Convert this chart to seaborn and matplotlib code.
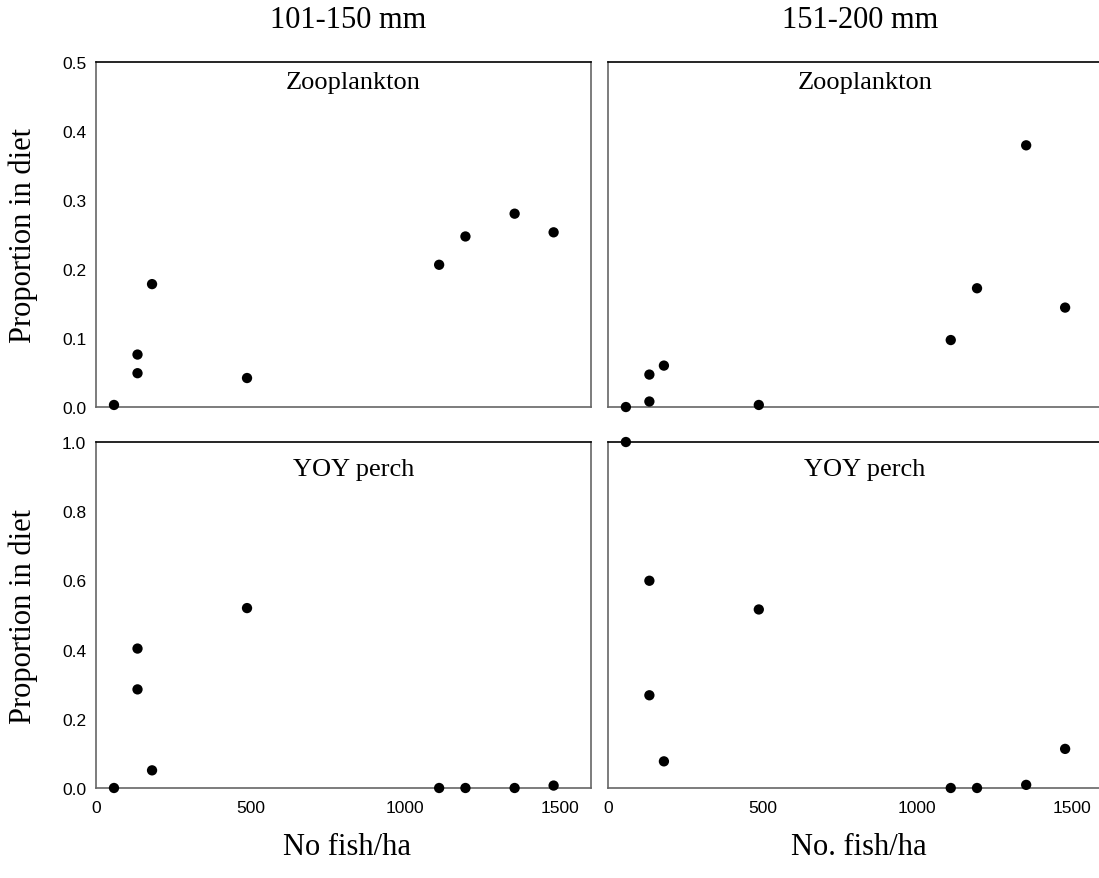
import numpy as np
import pandas as pd
import matplotlib
matplotlib.use("Agg")
import matplotlib.pyplot as plt
import seaborn as sns

# fish density (No. fish/ha) for each lake
density = [58, 134, 134, 181, 488, 1109, 1194, 1353, 1479]

# proportion in diet
zoo_101_150 = [0.003, 0.076, 0.049, 0.178, 0.042, 0.206, 0.247, 0.280, 0.253]
yoy_101_150 = [0.0, 0.403, 0.285, 0.051, 0.520, 0.0, 0.0, 0.0, 0.007]
zoo_151_200 = [0.0, 0.047, 0.008, 0.060, 0.003, 0.097, 0.172, 0.379, 0.144]
yoy_151_200 = [1.0, 0.599, 0.268, 0.077, 0.516, 0.0, 0.0, 0.009, 0.113]

size_classes = ["101-150 mm", "151-200 mm"]
prey_types = ["Zooplankton", "YOY perch"]
x_titles = ["No fish/ha", "No. fish/ha"]

rows = []
for sz, p, vals in [("101-150 mm", "Zooplankton", zoo_101_150),
                    ("101-150 mm", "YOY perch", yoy_101_150),
                    ("151-200 mm", "Zooplankton", zoo_151_200),
                    ("151-200 mm", "YOY perch", yoy_151_200)]:
    for d, v in zip(density, vals):
        rows.append({"size_class": sz, "prey": p, "density": d, "proportion": v})
df = pd.DataFrame(rows)

sns.set_style("white")
plt.rcParams["font.family"] = ["Liberation Sans", "DejaVu Sans"]
plt.rcParams["text.color"] = "black"
plt.rcParams["xtick.color"] = "black"
plt.rcParams["ytick.color"] = "black"
plt.rcParams["axes.labelcolor"] = "black"
serif = ["Liberation Serif", "DejaVu Serif"]

fig = plt.figure(figsize=(10.99, 8.79), dpi=100)

lefts = [0.0874, 0.5532]
widths = [0.4504, 0.4500]
bottoms = [0.5358, 0.1024]
heights = [0.3928, 0.3936]
ymax = [0.5, 1.0]
ystep = [0.1, 0.2]

for r, p in enumerate(prey_types):
    for c, sz in enumerate(size_classes):
        ax = fig.add_axes([lefts[c], bottoms[r], widths[c], heights[r]])
        sub = df[(df["prey"] == p) & (df["size_class"] == sz)]
        sns.scatterplot(data=sub, x="density", y="proportion", ax=ax,
                        color="black", s=55, edgecolor="none", clip_on=False, zorder=5)

        ax.set_xlim(0, 1600)
        ax.set_ylim(0, ymax[r])
        ax.set_xticks([0, 500, 1000, 1500])
        yt = np.round(np.arange(0, ymax[r] + 1e-9, ystep[r]), 1)
        ax.set_yticks(yt)

        ax.tick_params(axis="x", direction="in", length=5, width=1, color="#333333",
                       labelsize=12.5, pad=9, labelcolor="black")
        ax.tick_params(axis="y", direction="in", length=5 if c == 1 else 0, width=1,
                       color="#333333", labelsize=12.5, pad=7, labelcolor="black")

        if r == 0:
            ax.set_xticklabels([])
        else:
            ax.set_xticklabels(["0", "500", "1000", "1500"])
        if c == 0:
            ax.set_yticklabels([f"{v:.1f}" for v in yt])
        else:
            ax.set_yticklabels([])

        for side in ["left", "bottom", "right"]:
            ax.spines[side].set_color("#666666")
            ax.spines[side].set_linewidth(1.2)
        ax.spines["top"].set_color("black")
        ax.spines["top"].set_linewidth(1.2)

        ax.set_xlabel("")
        ax.set_ylabel("")
        if c == 0:
            ax.set_ylabel("Proportion in diet", family=serif, fontsize=22, color="black")
            ax.yaxis.label.set_va("center")
            ax.yaxis.set_label_coords(-0.147, 0.5)
        if r == 1:
            ax.set_xlabel(x_titles[c], family=serif, fontsize=22, color="black")
            ax.xaxis.label.set_va("center")
            ax.xaxis.set_label_coords(0.507, -0.168)
        if r == 0:
            ax.text(0.51, 1.121, sz, transform=ax.transAxes, ha="center", va="center",
                    family=serif, fontsize=22, color="black")

        ax.text(0.52, 0.925 if r == 0 else 0.905, p, transform=ax.transAxes,
                ha="center", va="baseline", family=serif, fontsize=19, color="black")

fig.savefig("out.png", dpi=100)
